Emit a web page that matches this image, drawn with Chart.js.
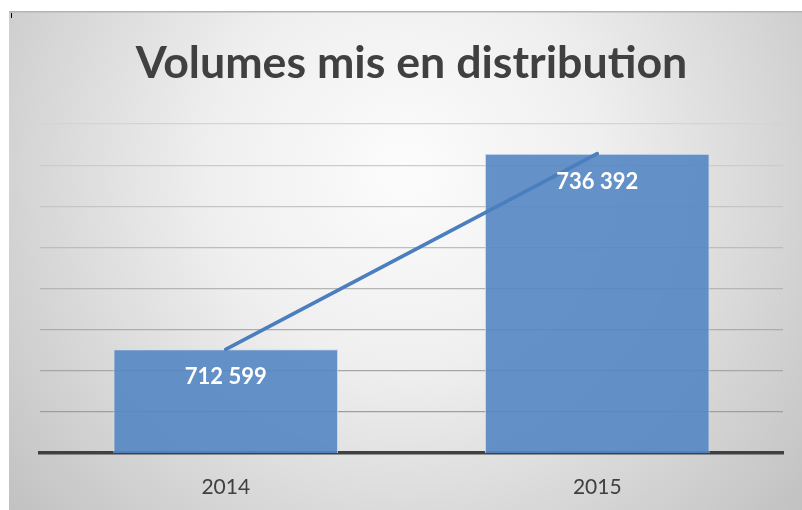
<!DOCTYPE html>
<html><head><meta charset="utf-8">
<script src="https://cdn.jsdelivr.net/npm/chart.js@4"></script>
<style>
html,body{margin:0;padding:0;background:#fff;width:802px;height:510px;overflow:hidden}
#wrap{position:absolute;left:9px;top:11px;width:793px;height:499px}
#cursor{position:absolute;left:11px;top:13px;width:1px;height:5px;background:#000}
</style></head><body>
<div id="wrap"><canvas id="c" width="793" height="499"></canvas></div>
<div id="cursor"></div>
<script>
const chartTitle = 'Volumes mis en distribution';
const categories = ['2014', '2015'];
const volumes = [712599, 736392];
const yMin = 700000;
const yMax = 740000;
const yStep = 5000;

function fmt(v) {
  return String(v).replace(/\B(?=(\d{3})+(?!\d))/g, ' ');
}

// size the title font so its width matches the reference
const mctx = document.createElement('canvas').getContext('2d');
mctx.font = 'bold 100px Lato';
const titleSize = Math.round(100 * 552 / mctx.measureText(chartTitle).width * 10) / 10;
const titleLH = 1.2;
const titlePadTop = 53 - titleSize * titleLH / 2;
const titlePadBottom = 113 - titlePadTop - titleSize * titleLH;

const bgPlugin = {
  id: 'bg',
  beforeDraw(chart) {
    const c = chart.ctx, w = chart.width, h = chart.height;
    c.save();
    const g = c.createRadialGradient(396, 160, 0, 396, 160, 560);
    g.addColorStop(0, '#fcfcfc');
    g.addColorStop(0.35, '#efefef');
    g.addColorStop(1, '#bcbcbc');
    c.fillStyle = g;
    c.fillRect(0, 0, w, h);
    c.fillStyle = '#b4b4b4';
    c.fillRect(0, 0, w, 1.5);
    c.restore();
  }
};

const labelPlugin = {
  id: 'barLabels',
  afterDatasetsDraw(chart) {
    const c = chart.ctx;
    const meta = chart.getDatasetMeta(0);
    c.save();
    c.font = 'bold 22px Lato';
    c.fillStyle = '#ffffff';
    c.textAlign = 'center';
    c.textBaseline = 'middle';
    meta.data.forEach((el, i) => {
      c.fillText(fmt(chart.data.datasets[0].data[i]), el.x, el.y + 28);
    });
    c.restore();
  }
};

function gridColor(ctx) {
  const v = ctx.tick ? ctx.tick.value : yMin;
  const t = (v - yMin) / (yMax - yMin);
  const dark = 150, light = 212;
  const g = Math.round(dark + (light - dark) * t);
  return `rgb(${g},${g},${g})`;
}

new Chart(document.getElementById('c'), {
  data: {
    labels: categories,
    datasets: [
      {
        type: 'bar',
        data: volumes,
        backgroundColor: 'rgba(84,135,195,0.9)',
        borderColor: 'rgba(205,222,242,0.95)',
        borderWidth: 1,
        barPercentage: 0.605,
        categoryPercentage: 1,
        order: 2
      },
      {
        type: 'line',
        data: volumes,
        borderColor: '#4a7ebf',
        borderWidth: 3.6,
        pointRadius: 0,
        borderCapStyle: 'round',
        tension: 0,
        order: 1
      }
    ]
  },
  options: {
    responsive: false,
    devicePixelRatio: 1,
    animation: false,
    layout: { padding: { left: 31, right: 19, top: 0, bottom: 0 } },
    plugins: {
      legend: { display: false },
      tooltip: { enabled: false },
      title: {
        display: true,
        text: chartTitle,
        color: '#404040',
        font: { family: 'Lato', weight: 'bold', size: titleSize, lineHeight: titleLH },
        padding: { top: titlePadTop, bottom: titlePadBottom }
      }
    },
    scales: {
      x: {
        offset: true,
        grid: { display: false, drawTicks: false },
        border: { display: true, color: '#404040', width: 3.5 },
        ticks: { color: '#404040', font: { family: 'Lato', size: 21 }, padding: 22 },
        afterFit(scale) { scale.height = 57; }
      },
      y: {
        min: yMin,
        max: yMax,
        ticks: { display: false, stepSize: yStep },
        grid: { color: gridColor, lineWidth: 1.2, drawTicks: false },
        border: { display: false },
        afterFit(scale) { scale.width = 0; }
      }
    }
  },
  plugins: [bgPlugin, labelPlugin]
});
</script>
</body></html>
